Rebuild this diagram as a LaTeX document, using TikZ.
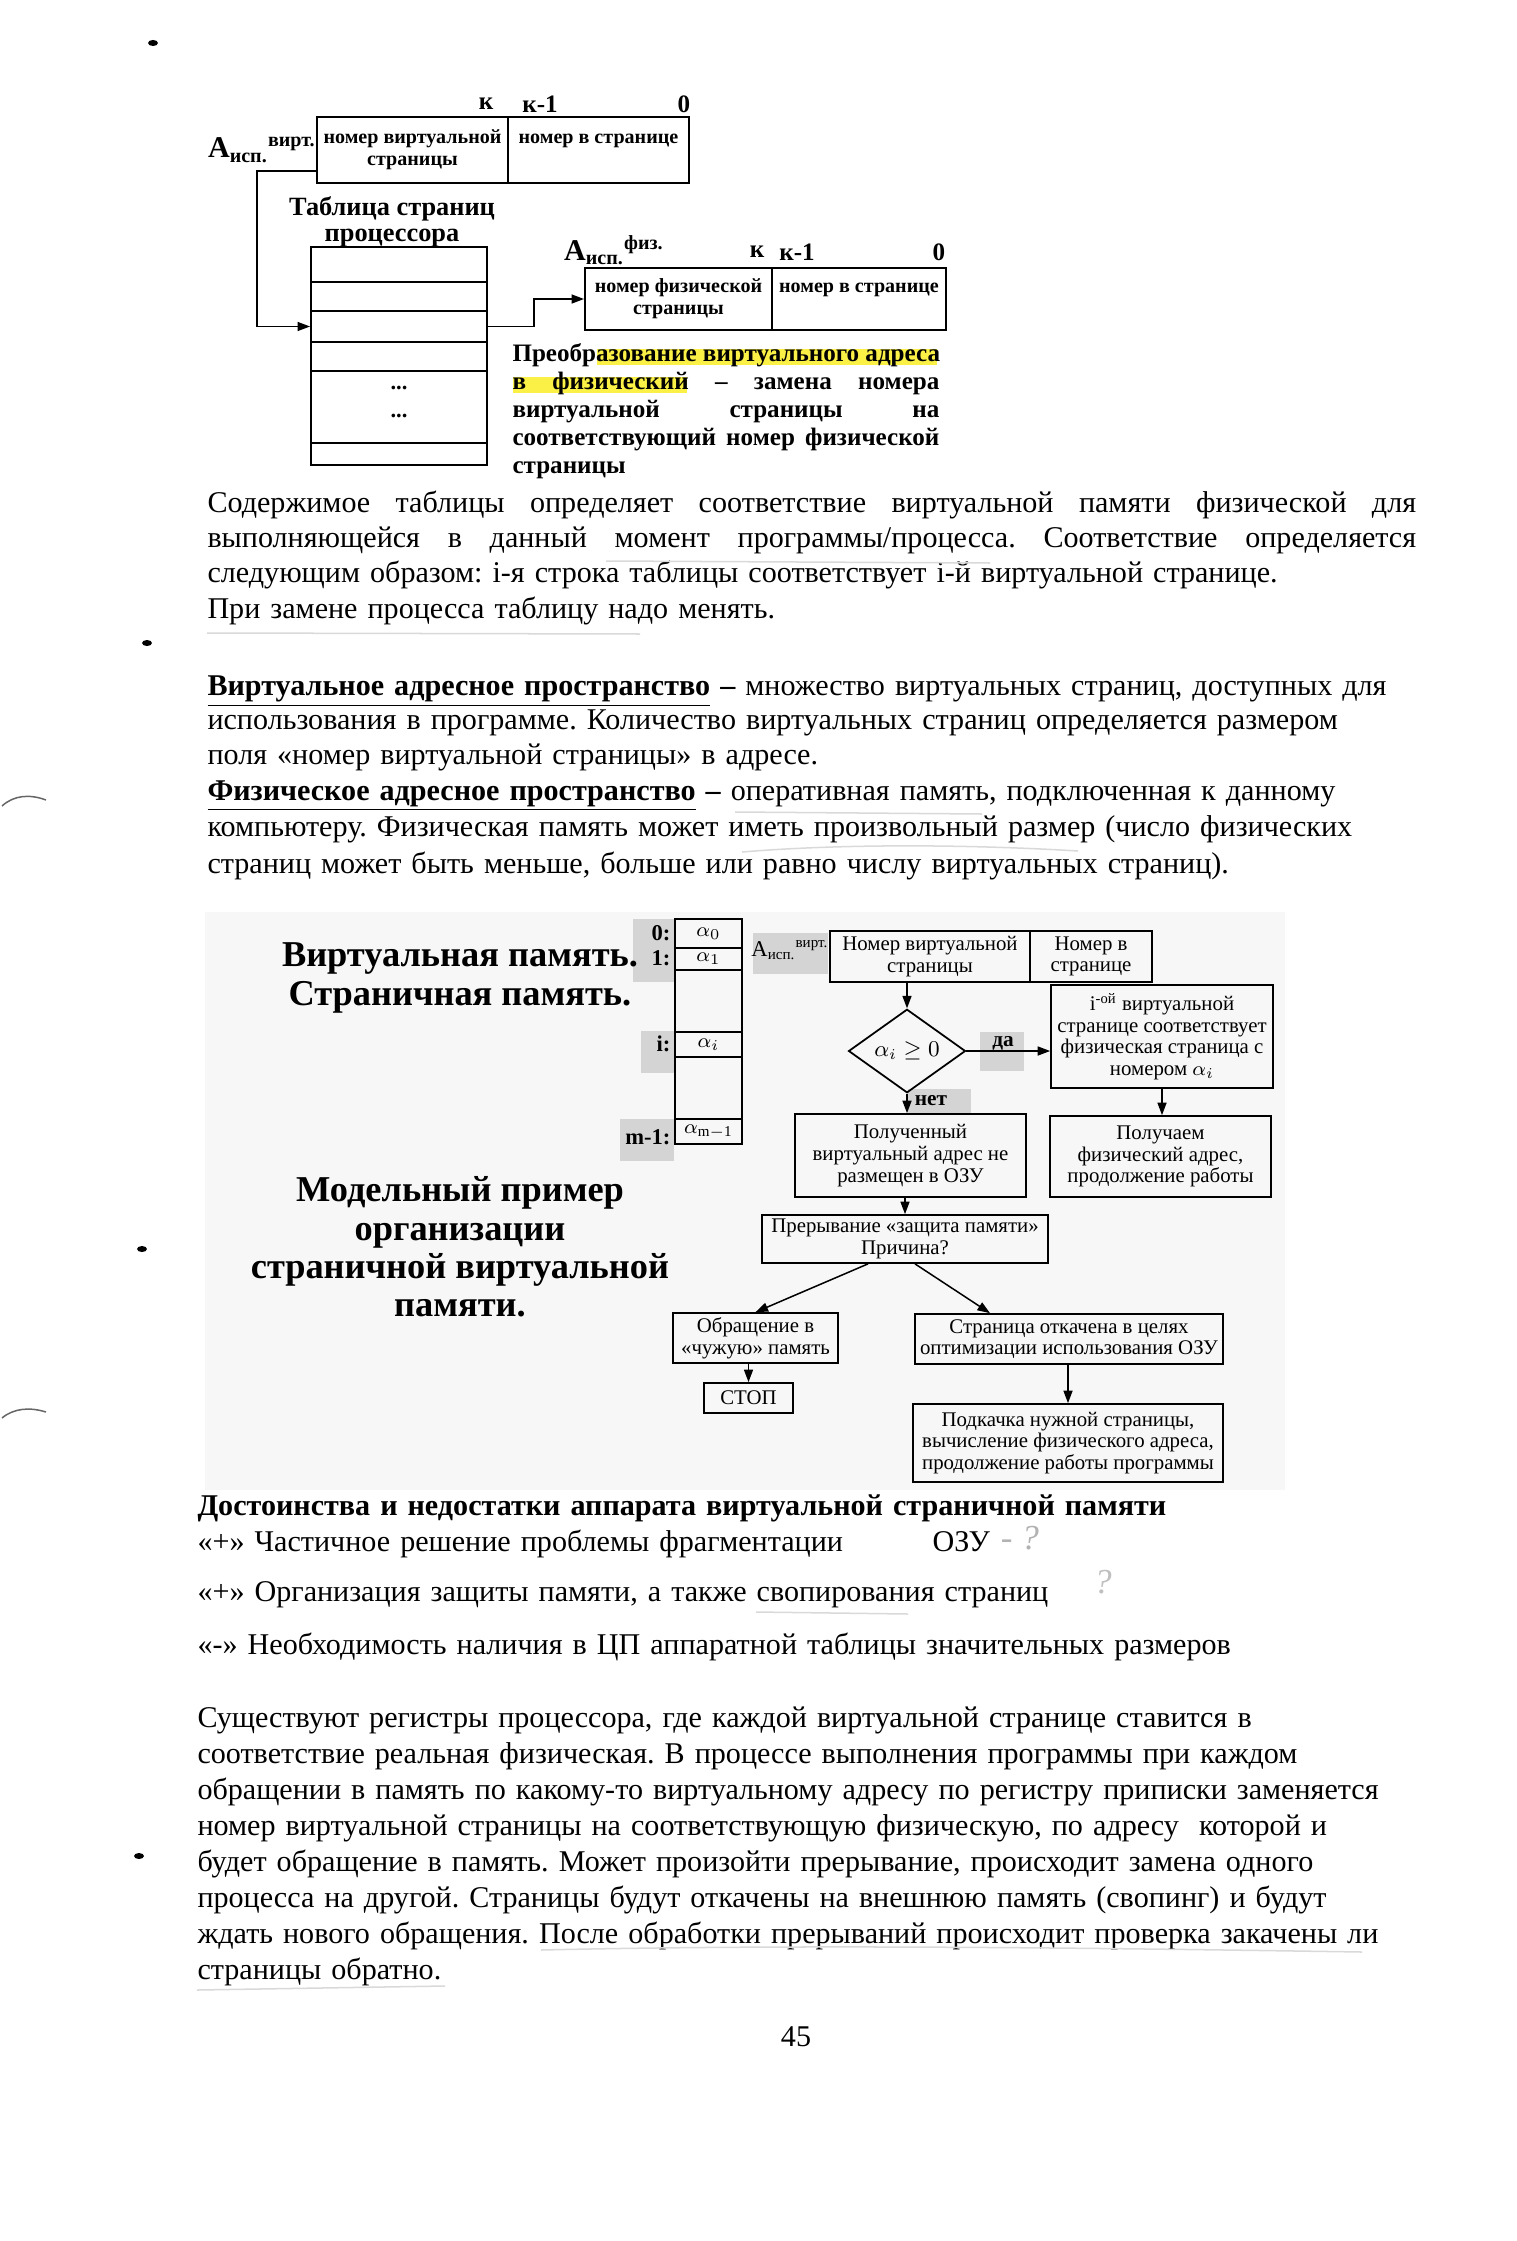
\documentclass[tikz,border=0pt]{standalone}
\usepackage{fontspec}
\setmainfont{Liberation Serif}
\usepackage{xcolor}
\usetikzlibrary{shapes.geometric, arrows.meta, positioning, calc}
\frenchspacing

\definecolor{marker}{RGB}{250,240,70}
\newcommand{\jline}[2]{\makebox[#1][s]{\spaceskip=.25em plus 1fil\relax #2}}

\tikzset{
  fld/.style={draw, line width=0.8pt, inner sep=0pt, align=center, font=\bfseries\fontsize{8}{8.8}\selectfont},
  tabrow/.style={draw, line width=0.8pt, minimum width=2.464cm, inner sep=0pt},
  bitno/.style={inner sep=0pt, font=\bfseries\fontsize{10}{11}\selectfont},
  conn/.style={line width=0.6pt, -{Triangle[length=5pt,width=3.6pt]}},
  blk/.style={draw, line width=0.7pt, inner sep=0pt, align=center, font=\fontsize{8.3}{8.6}\selectfont},
  arow/.style={draw, line width=0.7pt, minimum width=0.938cm, inner sep=0pt, font=\fontsize{8}{9}\selectfont},
  idx/.style={anchor=east, inner sep=0pt, font=\bfseries\fontsize{9}{10}\selectfont},
  patch/.style={fill=black!17},
  body/.style={anchor=base west, inner sep=0pt, text width=#1, align=left, font=\fontsize{12}{14.1}\selectfont},
  ttl/.style={align=center, inner sep=0pt, font=\bfseries\fontsize{14.5}{15.3}\selectfont},
  pencil/.style={black!15, line width=0.6pt}
}

\begin{document}
\begin{tikzpicture}[x=0.014cm, y=-0.014cm]
\useasboundingbox (0,0) rectangle (1517,2241);

% margin marks of the scan
\fill (153,43) ellipse (5 and 3);
\fill (147,643) ellipse (5 and 3);
\fill (142,1249) ellipse (5 and 3);
\fill (139,1856) ellipse (5 and 3);
\draw[black!60, line width=0.6pt] (2,806) .. controls (14,795) and (30,794) .. (46,800);
\draw[black!60, line width=0.6pt] (2,1418) .. controls (14,1408) and (30,1407) .. (46,1412);

% virtual address
\node[bitno] (kv) at (486,104) {к};
\node[bitno] (kv1) at (540,104) {к-1};
\node[bitno] (zv) at (684,104) {0};
\node[inner sep=0pt, font=\bfseries\fontsize{12}{13}\selectfont] (av) at (262,150) {A\textsubscript{исп.}\textsuperscript{вирт.}};
\node[fld, minimum width=2.674cm, minimum height=0.924cm] (vpage) at (412.5,150) {номер виртуальной\\страницы};
\node[fld, minimum width=2.534cm, minimum height=0.924cm] (voff) at (598.5,150) {номер в странице\\\mbox{}};

% page table
\node[align=center, inner sep=0pt, font=\bfseries\fontsize{10.5}{10.3}\selectfont] (ttab) at (392,222) {Таблица страниц\\процессора};
\node[tabrow, minimum height=0.49cm] (t1) at (399,264.5) {};
\node[tabrow, minimum height=0.406cm] (t2) at (399,296.5) {};
\node[tabrow, minimum height=0.434cm] (t3) at (399,326.5) {};
\node[tabrow, minimum height=0.406cm] (t4) at (399,356.5) {};
\node[tabrow, minimum height=1.008cm] (t5) at (399,407) {};
\node[tabrow, minimum height=0.308cm] (t6) at (399,454) {};
\node[inner sep=0pt, font=\bfseries\fontsize{9}{9}\selectfont] (d1) at (399,388) {...};
\node[inner sep=0pt, font=\bfseries\fontsize{9}{9}\selectfont] (d2) at (399,416) {...};

% physical address
\node[bitno] (kp) at (757,252) {к};
\node[bitno] (kp1) at (797,252) {к-1};
\node[bitno] (zp) at (939,252) {0};
\node[inner sep=0pt, font=\bfseries\fontsize{12}{13}\selectfont] (ap) at (614,250) {A\textsubscript{исп.}\textsuperscript{физ.}};
\node[fld, minimum width=2.618cm, minimum height=0.868cm] (ppage) at (678.5,299) {номер физической\\страницы};
\node[fld, minimum width=2.436cm, minimum height=0.868cm] (poff) at (859,299) {номер в странице\\\mbox{}};

\coordinate (vstart) at ($(vpage.south west)+(0,-13)$);
\draw[conn] (vstart) -- ++(-59,0) |- (t3.west);
\draw[conn] (t3.east) -- ++(46,0) |- (ppage.west);

\draw[marker, line width=6.5pt] (597,357) -- (937,357);
\draw[marker, line width=6.5pt] (513,385) -- (687,385);
\node[anchor=base west, inner sep=0pt, text width=5.98cm, align=left, font=\bfseries\fontsize{10}{11.2}\selectfont] (conv) at (512,361) {%
\jline{5.98cm}{Преобразование виртуального адреса}\\
\jline{5.98cm}{в физический – замена номера}\\
\jline{5.98cm}{виртуальной страницы на}\\
\jline{5.98cm}{соответствующий номер физической}\\
страницы};

% text
\node[body=16.93cm] (p1) at (207,512) {%
\jline{16.93cm}{Содержимое таблицы определяет соответствие виртуальной памяти физической для}\\
\jline{16.93cm}{выполняющейся в данный момент программы/процесса. Соответствие определяется}\\
следующим образом: i-я строка таблицы соответствует i-й виртуальной странице.\\
При замене процесса таблицу надо менять.};
\draw[pencil] (606,561) -- (990,563);
\draw[pencil] (207,633) -- (640,634);

\node[body=18cm, font=\fontsize{12}{13.8}\selectfont] (p2) at (207,695) {%
\underline{\textbf{Виртуальное адресное пространство}} \textbf{–} множество виртуальных страниц, доступных для\\
использования в программе. Количество виртуальных страниц определяется размером\\
поля «номер виртуальной страницы» в адресе.};
\node[body=18cm, font=\fontsize{12}{14.6}\selectfont] (p3) at (207,800) {%
\underline{\textbf{Физическое адресное пространство}} \textbf{–} оперативная память, подключенная к данному\\
компьютеру. Физическая память может иметь произвольный размер (число физических\\
страниц может быть меньше, больше или равно числу виртуальных страниц).};
\draw[pencil] (735,812) -- (982,814);
\draw[pencil] (742,852) .. controls (850,843) and (980,845) .. (1078,851);

% slide
\fill[black!3] (205,912) rectangle (1285,1490);
\fill[patch] (633,919) rectangle (674,982);
\fill[patch] (641,1031) rectangle (674,1073);
\fill[patch] (620,1119) rectangle (674,1161);
\fill[patch] (753,933) rectangle (828,974);
\fill[patch] (980,1032) rectangle (1024,1071);
\fill[patch] (908,1089) rectangle (971,1115);

\node[ttl] (tvm) at (460,978) {Виртуальная память.\\Страничная память.};
\node[ttl] (tmod) at (460,1247) {Модельный пример\\организации\\страничной виртуальной\\памяти.};

\node[arow, minimum height=0.406cm] (a0) at (708.5,933.5) {$\alpha_0$};
\node[arow, minimum height=0.308cm] (a1) at (708.5,959) {$\alpha_1$};
\node[arow, minimum height=0.868cm] (ab1) at (708.5,1001) {};
\node[arow, minimum height=0.35cm] (ai) at (708.5,1044.5) {$\alpha_i$};
\node[arow, minimum height=0.868cm] (ab2) at (708.5,1088) {};
\node[arow, minimum height=0.35cm] (am) at (708.5,1131.5) {$\alpha_{\mathrm{m-1}}$};
\node[idx] (l0) at (671,933) {0:};
\node[idx] (l1) at (671,958) {1:};
\node[idx] (li) at (671,1044) {i:};
\node[idx] (lm) at (671,1137) {m-1:};

\node[inner sep=0pt, font=\fontsize{9}{10}\selectfont] (asl) at (790,950) {A\textsubscript{исп.}\textsuperscript{вирт.}};
\node[blk, minimum width=2.8cm, minimum height=0.714cm] (vnum) at (930,956.5) {Номер виртуальной\\страницы};
\node[blk, minimum width=1.708cm, minimum height=0.714cm] (vof) at (1091,956.5) {Номер в\\странице};
\node[diamond, draw, line width=0.7pt, minimum width=1.638cm, minimum height=1.134cm, inner sep=0pt, font=\fontsize{9}{10}\selectfont] (chk) at (907,1051) {$\alpha_i\geq 0$};
\node[blk, minimum width=3.108cm, minimum height=1.442cm] (ibox) at (1162,1036.5) {i\textsuperscript{-ой} виртуальной\\странице соответствует\\физическая страница с\\номером $\alpha_i$};
\node[blk, minimum width=3.094cm, minimum height=1.134cm] (gbox) at (1160.5,1156.5) {Получаем\\физический адрес,\\продолжение работы};
\node[blk, minimum width=3.234cm, minimum height=1.162cm] (nbox) at (910.5,1155.5) {Полученный\\виртуальный адрес не\\размещен в ОЗУ};
\node[blk, minimum width=4.004cm, minimum height=0.672cm] (intr) at (905,1239) {Прерывание «защита памяти»\\Причина?};
\node[blk, minimum width=2.31cm, minimum height=0.7cm] (obr) at (755.5,1338) {Обращение в\\«чужую» память};
\node[blk, minimum width=1.246cm, minimum height=0.42cm] (stop) at (748.5,1398) {СТОП};
\node[blk, minimum width=4.312cm, minimum height=0.7cm] (otk) at (1069,1339) {Страница откачена в целях\\оптимизации использования ОЗУ};
\node[blk, minimum width=4.34cm, minimum height=1.092cm] (podk) at (1068,1443) {Подкачка нужной страницы,\\вычисление физического адреса,\\продолжение работы программы};
\node[inner sep=0pt, font=\bfseries\fontsize{8.5}{9}\selectfont] (yes) at (1003,1043) {да};
\node[inner sep=0pt, font=\bfseries\fontsize{8.5}{9}\selectfont] (no) at (931,1101) {нет};

\draw[conn] (chk.north |- vnum.south) -- (chk.north);
\draw[conn] (chk.east) -- (chk.east -| ibox.west);
\draw[conn] (chk.south) -- (chk.south |- nbox.north);
\draw[conn] (ibox.south) -- (ibox.south |- gbox.north);
\draw[conn] (intr.north |- nbox.south) -- (intr.north);
\draw[conn] ($(intr.south)+(-37,0)$) -- (obr.north);
\draw[conn] ($(intr.south)+(10,0)$) -- ($(otk.north)+(-79,0)$);
\draw[conn] (stop.north |- obr.south) -- (stop.north);
\draw[conn] (podk.north |- otk.south) -- (podk.north);

% pros and cons
\node[body=18cm] (hdr) at (197,1515) {\textbf{Достоинства и недостатки аппарата виртуальной страничной памяти}};
\node[body=14cm] (pl1) at (197,1551) {«+» Частичное решение проблемы фрагментации};
\node[body=2cm] (ozu) at (932,1551) {ОЗУ};
\node[body=18cm] (pl2) at (197,1601) {«+» Организация защиты памяти, а также свопирования страниц};
\node[body=18cm] (mn1) at (197,1654) {«-» Необходимость наличия в ЦП аппаратной таблицы значительных размеров};
\node[inner sep=0pt, black!30, font=\itshape\fontsize{14}{14}\selectfont] (q1) at (1020,1538) {- ?};
\node[inner sep=0pt, black!25, font=\itshape\fontsize{14}{14}\selectfont] (q2) at (1103,1582) {?};
\draw[pencil] (756,1612) -- (908,1614);

\node[body=18cm, font=\fontsize{12}{14.35}\selectfont] (p4) at (197,1727) {%
Существуют регистры процессора, где каждой виртуальной странице ставится в\\
соответствие реальная физическая. В процессе выполнения программы при каждом\\
обращении в память по какому-то виртуальному адресу по регистру приписки заменяется\\
номер виртуальной страницы на соответствующую физическую, по адресу\ \ которой и\\
будет обращение в память. Может произойти прерывание, происходит замена одного\\
процесса на другой. Страницы будут откачены на внешнюю память (свопинг) и будут\\
ждать нового обращения. После обработки прерываний происходит проверка закачены ли\\
страницы обратно.};
\draw[pencil] (541,1950) .. controls (800,1944) and (1100,1948) .. (1362,1952);
\draw[pencil] (197,1990) -- (445,1986);

\node[inner sep=0pt, font=\fontsize{12}{14}\selectfont] (pg) at (796,2037) {45};
\end{tikzpicture}
\end{document}
